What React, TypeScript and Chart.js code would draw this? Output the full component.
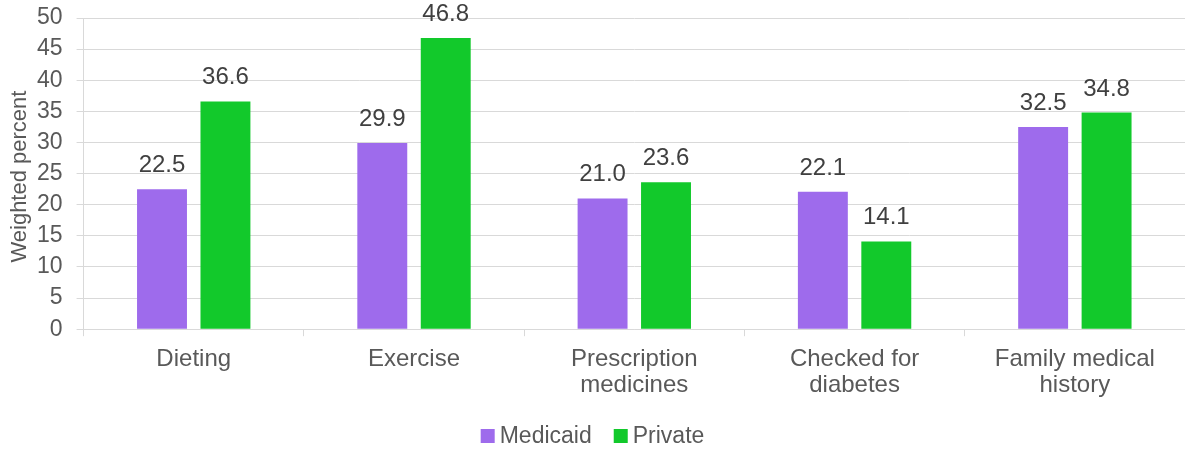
import React, { useEffect, useRef } from "react";
import { Chart, registerables } from "chart.js";

Chart.register(...registerables);

const categories: string[][] = [
  ["Dieting"],
  ["Exercise"],
  ["Prescription", "medicines"],
  ["Checked for", "diabetes"],
  ["Family medical", "history"],
];
const medicaid = [22.5, 29.9, 21.0, 22.1, 32.5];
const privateIns = [36.6, 46.8, 23.6, 14.1, 34.8];
const seriesNames = ["Medicaid", "Private"];
const seriesColors = ["#9E6BEC", "#12C92B"];
const yTitle = "Weighted percent";

const FONT = "'Liberation Sans', Arial, sans-serif";
const TEXT = "#595959";
const GRID = "#D9D9D9";

// Value labels drawn above each bar
const valueLabels = {
  id: "valueLabels",
  afterDatasetsDraw(chart: any) {
    const ctx = chart.ctx;
    ctx.save();
    ctx.font = `24px ${FONT}`;
    ctx.fillStyle = "#404040";
    ctx.textAlign = "center";
    ctx.textBaseline = "alphabetic";
    chart.data.datasets.forEach((ds: any, i: number) => {
      const meta = chart.getDatasetMeta(i);
      meta.data.forEach((bar: any, j: number) => {
        ctx.fillText(Number(ds.data[j]).toFixed(1), bar.x, bar.y - 17);
      });
    });
    ctx.restore();
  },
};

// Rotated y-axis title at the far left
const axisTitle = {
  id: "axisTitle",
  afterDraw(chart: any) {
    const ctx = chart.ctx;
    const area = chart.chartArea;
    ctx.save();
    ctx.font = `22px ${FONT}`;
    ctx.fillStyle = TEXT;
    ctx.textAlign = "center";
    ctx.textBaseline = "middle";
    ctx.translate(20, (area.top + area.bottom) / 2 + 3);
    ctx.rotate(-Math.PI / 2);
    ctx.fillText(yTitle, 0, 0);
    ctx.restore();
  },
};

// Compact legend centred beneath the axis labels
const bottomLegend = {
  id: "bottomLegend",
  afterDraw(chart: any) {
    const ctx = chart.ctx;
    ctx.save();
    ctx.font = `23px ${FONT}`;
    ctx.textBaseline = "middle";
    const box = 14;
    const gap = 5;
    const spacing = 22;
    const widths = seriesNames.map((n) => box + gap + ctx.measureText(n).width);
    const total = widths.reduce((a, b) => a + b, 0) + spacing * (widths.length - 1);
    let x = (chart.width - total) / 2;
    const y = 436;
    seriesNames.forEach((name, i) => {
      ctx.fillStyle = seriesColors[i];
      ctx.fillRect(x, y - box / 2, box, box);
      ctx.fillStyle = TEXT;
      ctx.fillText(name, x + box + gap, y + 1);
      x += widths[i] + spacing;
    });
    ctx.restore();
  },
};

export default function App() {
  const canvasRef = useRef<HTMLCanvasElement | null>(null);

  useEffect(() => {
    if (!canvasRef.current) return;
    const chart = new Chart(canvasRef.current, {
      type: "bar",
      data: {
        labels: categories,
        datasets: [
          {
            label: seriesNames[0],
            data: medicaid,
            backgroundColor: seriesColors[0],
            categoryPercentage: 0.576,
            barPercentage: 0.787,
          },
          {
            label: seriesNames[1],
            data: privateIns,
            backgroundColor: seriesColors[1],
            categoryPercentage: 0.576,
            barPercentage: 0.787,
          },
        ],
      },
      options: {
        responsive: false,
        animation: false,
        layout: { padding: { top: 0, right: 0, bottom: 42, left: 23 } },
        plugins: {
          legend: { display: false },
          tooltip: { enabled: false },
        },
        scales: {
          x: {
            grid: {
              offset: true,
              drawOnChartArea: false,
              drawTicks: true,
              tickLength: 7,
              color: GRID,
            },
            border: { color: GRID },
            ticks: {
              color: TEXT,
              font: { family: FONT, size: 24, lineHeight: 1.08 },
              padding: 10,
              maxRotation: 0,
              autoSkip: false,
            },
          },
          y: {
            min: 0,
            max: 50,
            grid: { color: GRID, tickLength: 7 },
            border: { color: GRID },
            ticks: {
              stepSize: 5,
              autoSkip: false,
              color: TEXT,
              font: { family: FONT, size: 23, lineHeight: 1.0 },
              padding: 14,
            },
            // keep the plot top close to the canvas edge
            afterFit(scale: any) {
              scale.paddingTop = 18;
            },
          },
        },
      },
      plugins: [valueLabels, axisTitle, bottomLegend],
    });
    return () => chart.destroy();
  }, []);

  return (
    <div style={{ position: "absolute", left: 0, top: 0, width: 1185, height: 450, background: "#fff" }}>
      <canvas ref={canvasRef} width={1185} height={450} />
    </div>
  );
}
